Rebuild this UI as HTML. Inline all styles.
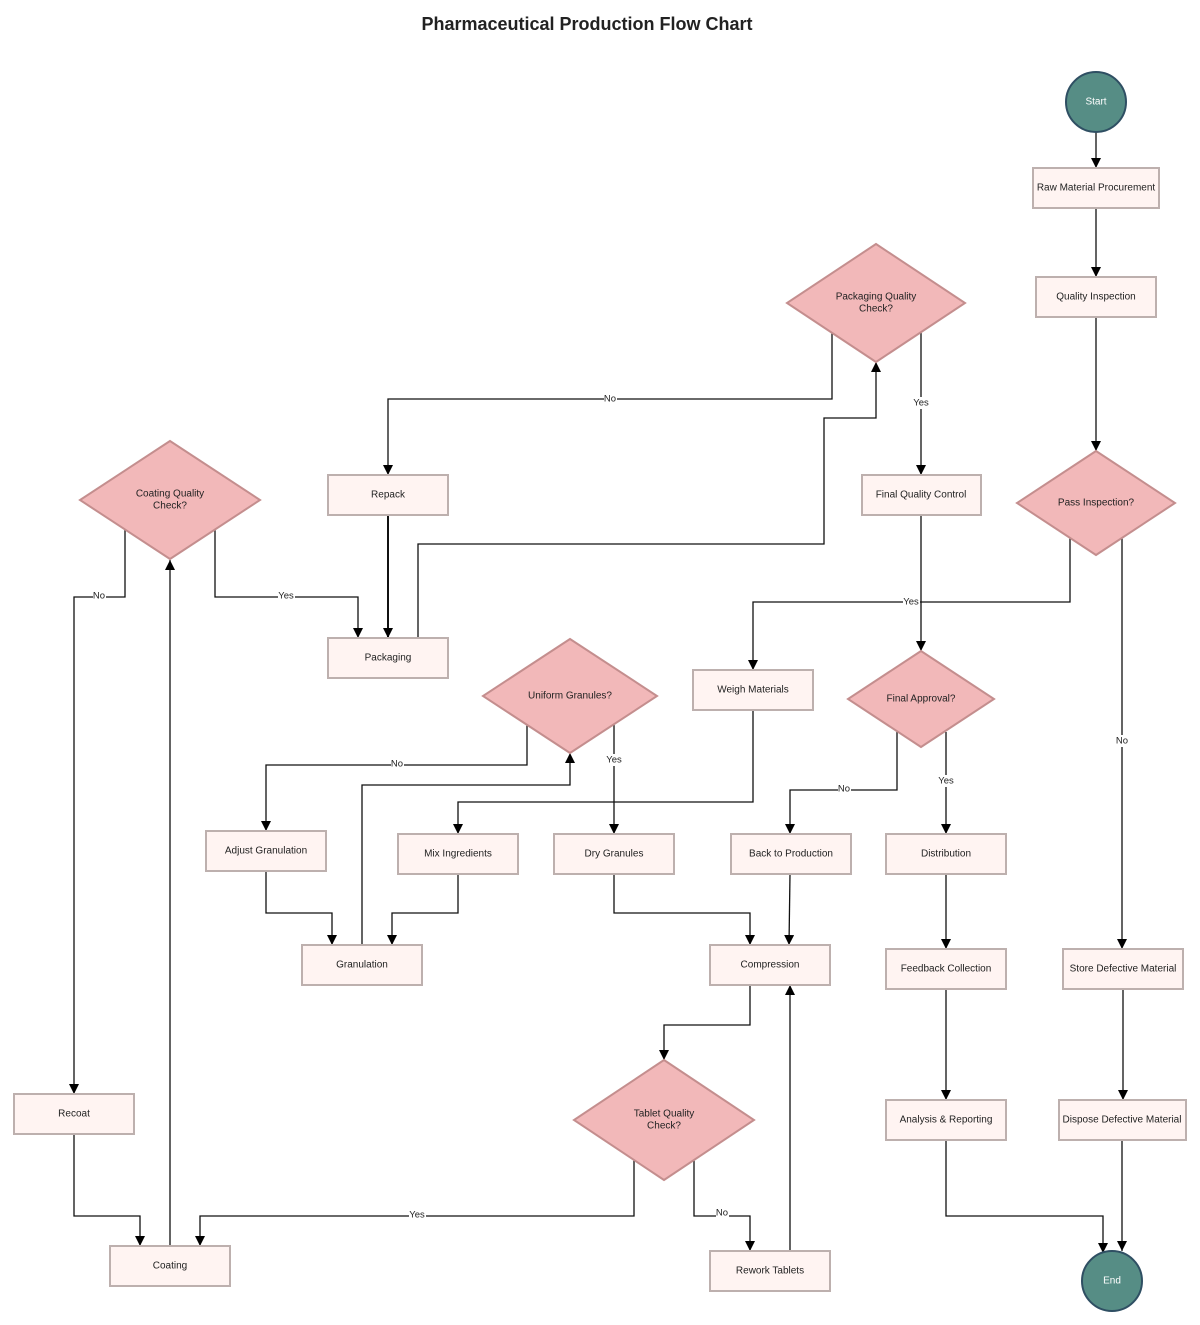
<!DOCTYPE html>
<html><head><meta charset="utf-8"><style>
html,body{margin:0;padding:0;background:#fff;}
svg{display:block;font-family:"Liberation Sans",Arial,sans-serif;}
.b{fill:#fff4f2;stroke:#bdb0ae;stroke-width:2;}
.d{fill:#f2b8b9;stroke:#c48e8e;stroke-width:2;}
.c{fill:#568d85;stroke:#2f4f63;stroke-width:2;}
.t{font-size:10px;fill:#222;text-anchor:middle;dominant-baseline:middle;}
.e{fill:none;stroke:#111;stroke-width:1.3;marker-end:url(#a);}
.l{font-size:9.5px;fill:#222;text-anchor:middle;dominant-baseline:middle;}
.lb{fill:#fff;}
</style></head><body>
<svg width="1200" height="1325" viewBox="0 0 1200 1325">
<defs><marker id="a" viewBox="0 0 10 10" refX="10" refY="5" markerWidth="10" markerHeight="10" markerUnits="userSpaceOnUse" orient="auto"><path d="M0,0L10,5L0,10z" fill="#000"/></marker></defs>
<text x="587" y="25" text-anchor="middle" dominant-baseline="middle" font-size="18" font-weight="bold" fill="#222">Pharmaceutical Production Flow Chart</text>

<!-- edges -->
<path class="e" d="M1096,132V168"/>
<path class="e" d="M1096,208V277"/>
<path class="e" d="M1096,317V451"/>
<path class="e" d="M1070,538V602H753V670"/>
<path class="e" d="M1122,538V949"/>
<path class="e" d="M1123,989V1100"/>
<path class="e" d="M1122,1140V1251"/>
<path class="e" d="M946,1140V1216H1103V1253"/>
<path class="e" d="M946,989V1100"/>
<path class="e" d="M946,874V949"/>
<path class="e" d="M946,732V834"/>
<path class="e" d="M897,732V790H790V834"/>
<path class="e" d="M921,515V651"/>
<path class="e" d="M921,333V475"/>
<path class="e" d="M832,333V399H388V475"/>
<path class="e" d="M418,638V544H824V418H876V362"/>
<path class="e" d="M388,515V638" style="stroke-width:2"/>
<path class="e" d="M215,530V597H358V638"/>
<path class="e" d="M125,530V597H74V1094"/>
<path class="e" d="M74,1134V1216H140V1246"/>
<path class="e" d="M170,1246V560"/>
<path class="e" d="M634,1160V1216H200V1246"/>
<path class="e" d="M694,1160V1216H750V1251"/>
<path class="e" d="M790,1251V985"/>
<path class="e" d="M750,985V1025H664V1060"/>
<path class="e" d="M790,874L789,945"/>
<path class="e" d="M614,874V913H750V945"/>
<path class="e" d="M614,725V834"/>
<path class="e" d="M527,725V765H266V831"/>
<path class="e" d="M362,945V785H570V753"/>
<path class="e" d="M753,710V802H458V834"/>
<path class="e" d="M458,874V913H392V945"/>
<path class="e" d="M266,871V913H332V945"/>

<!-- edge labels -->
<g>
<rect class="lb" x="903" y="596" width="17" height="12"/><text class="l" x="911" y="602">Yes</text>
<rect class="lb" x="1116" y="735" width="13" height="12"/><text class="l" x="1122" y="741">No</text>
<rect class="lb" x="938" y="775" width="17" height="12"/><text class="l" x="946" y="781">Yes</text>
<rect class="lb" x="838" y="783" width="13" height="12"/><text class="l" x="844" y="789">No</text>
<rect class="lb" x="913" y="397" width="17" height="12"/><text class="l" x="921" y="403">Yes</text>
<rect class="lb" x="604" y="393" width="13" height="12"/><text class="l" x="610" y="399">No</text>
<rect class="lb" x="278" y="590" width="17" height="12"/><text class="l" x="286" y="596">Yes</text>
<rect class="lb" x="93" y="590" width="13" height="12"/><text class="l" x="99" y="596">No</text>
<rect class="lb" x="409" y="1209" width="17" height="12"/><text class="l" x="417" y="1215">Yes</text>
<rect class="lb" x="716" y="1207" width="13" height="12"/><text class="l" x="722" y="1213">No</text>
<rect class="lb" x="606" y="754" width="17" height="12"/><text class="l" x="614" y="760">Yes</text>
<rect class="lb" x="391" y="758" width="13" height="12"/><text class="l" x="397" y="764">No</text>
</g>

<!-- nodes -->
<circle class="c" cx="1096" cy="102" r="30"/><text class="t" x="1096" y="102" style="fill:#fff">Start</text>
<circle class="c" cx="1112" cy="1281" r="30"/><text class="t" x="1112" y="1281" style="fill:#fff">End</text>

<rect class="b" x="1033" y="168" width="126" height="40"/><text class="t" x="1096" y="188">Raw Material Procurement</text>
<rect class="b" x="1036" y="277" width="120" height="40"/><text class="t" x="1096" y="297">Quality Inspection</text>
<polygon class="d" points="1096,451 1175,503 1096,555 1017,503"/><text class="t" x="1096" y="503">Pass Inspection?</text>
<polygon class="d" points="876,244 965,303 876,362 787,303"/><text class="t" x="876" y="297">Packaging Quality</text><text class="t" x="876" y="309">Check?</text>
<rect class="b" x="328" y="475" width="120" height="40"/><text class="t" x="388" y="495">Repack</text>
<rect class="b" x="862" y="475" width="119" height="40"/><text class="t" x="921" y="495">Final Quality Control</text>
<polygon class="d" points="170,441 260,500 170,559 80,500"/><text class="t" x="170" y="494">Coating Quality</text><text class="t" x="170" y="506">Check?</text>
<rect class="b" x="328" y="638" width="120" height="40"/><text class="t" x="388" y="658">Packaging</text>
<rect class="b" x="693" y="670" width="120" height="40"/><text class="t" x="753" y="690">Weigh Materials</text>
<polygon class="d" points="570,639 657,696 570,753 483,696"/><text class="t" x="570" y="696">Uniform Granules?</text>
<polygon class="d" points="921,651 994,699 921,747 848,699"/><text class="t" x="921" y="699">Final Approval?</text>
<rect class="b" x="206" y="831" width="120" height="40"/><text class="t" x="266" y="851">Adjust Granulation</text>
<rect class="b" x="398" y="834" width="120" height="40"/><text class="t" x="458" y="854">Mix Ingredients</text>
<rect class="b" x="554" y="834" width="120" height="40"/><text class="t" x="614" y="854">Dry Granules</text>
<rect class="b" x="731" y="834" width="120" height="40"/><text class="t" x="791" y="854">Back to Production</text>
<rect class="b" x="886" y="834" width="120" height="40"/><text class="t" x="946" y="854">Distribution</text>
<rect class="b" x="302" y="945" width="120" height="40"/><text class="t" x="362" y="965">Granulation</text>
<rect class="b" x="710" y="945" width="120" height="40"/><text class="t" x="770" y="965">Compression</text>
<rect class="b" x="886" y="949" width="120" height="40"/><text class="t" x="946" y="969">Feedback Collection</text>
<rect class="b" x="1063" y="949" width="120" height="40"/><text class="t" x="1123" y="969">Store Defective Material</text>
<rect class="b" x="14" y="1094" width="120" height="40"/><text class="t" x="74" y="1114">Recoat</text>
<polygon class="d" points="664,1060 754,1120 664,1180 574,1120"/><text class="t" x="664" y="1114">Tablet Quality</text><text class="t" x="664" y="1126">Check?</text>
<rect class="b" x="886" y="1100" width="120" height="40"/><text class="t" x="946" y="1120">Analysis &amp; Reporting</text>
<rect class="b" x="1059" y="1100" width="127" height="40"/><text class="t" x="1122" y="1120">Dispose Defective Material</text>
<rect class="b" x="110" y="1246" width="120" height="40"/><text class="t" x="170" y="1266">Coating</text>
<rect class="b" x="710" y="1251" width="120" height="40"/><text class="t" x="770" y="1271">Rework Tablets</text>
</svg>
</body></html>
